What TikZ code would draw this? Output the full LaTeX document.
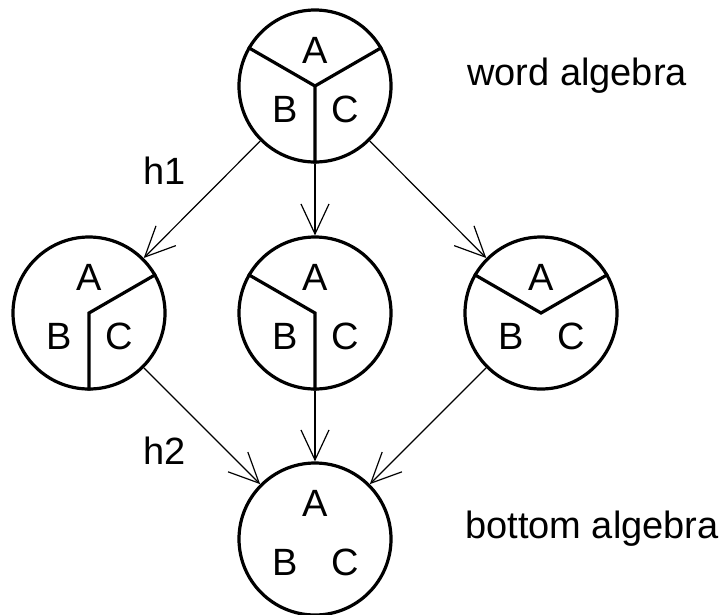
\documentclass[tikz,border=0pt]{standalone}
\usepackage{fontspec}
\setmainfont{Liberation Sans}
\usetikzlibrary{arrows.meta}

\tikzset{
  alg/.style={circle, draw, line width=3.2pt, minimum size=152pt, inner sep=0pt},
  lbl/.style={font=\fontsize{38}{38}\selectfont, anchor=base, inner sep=0pt},
  side/.style={font=\fontsize{38}{38}\selectfont, anchor=base west, inner sep=0pt},
  divider/.style={line width=3.2pt},
  arr/.style={line width=1.2pt, -{Straight Barb[length=30pt,width=28pt]}}
}

\begin{document}
\begin{tikzpicture}[x=1pt, y=-1pt]
\useasboundingbox (0,0) rectangle (723,614);

% the five algebras
\node[alg] (t) at (315,86) {};
\node[alg] (l) at (89,313) {};
\node[alg] (m) at (315,313) {};
\node[alg] (r) at (541,313) {};
\node[alg] (b) at (315,539) {};

% partitions of the carriers
\draw[divider] (t.150) -- (t.center) -- (t.30) (t.center) -- (t.-90);
\draw[divider] (l.30) -- (l.center) -- (l.-90);
\draw[divider] (m.150) -- (m.center) -- (m.-90);
\draw[divider] (r.150) -- (r.center) -- (r.30);

% sort labels inside every circle
\node[lbl] (tA) at ([yshift=23pt]t.center) {A};
\node[lbl] (tB) at ([xshift=-30pt,yshift=-36pt]t.center) {B};
\node[lbl] (tC) at ([xshift=30pt,yshift=-36pt]t.center) {C};
\node[lbl] (lA) at ([yshift=23pt]l.center) {A};
\node[lbl] (lB) at ([xshift=-30pt,yshift=-36pt]l.center) {B};
\node[lbl] (lC) at ([xshift=30pt,yshift=-36pt]l.center) {C};
\node[lbl] (mA) at ([yshift=23pt]m.center) {A};
\node[lbl] (mB) at ([xshift=-30pt,yshift=-36pt]m.center) {B};
\node[lbl] (mC) at ([xshift=30pt,yshift=-36pt]m.center) {C};
\node[lbl] (rA) at ([yshift=23pt]r.center) {A};
\node[lbl] (rB) at ([xshift=-30pt,yshift=-36pt]r.center) {B};
\node[lbl] (rC) at ([xshift=30pt,yshift=-36pt]r.center) {C};
\node[lbl] (bA) at ([yshift=23pt]b.center) {A};
\node[lbl] (bB) at ([xshift=-30pt,yshift=-36pt]b.center) {B};
\node[lbl] (bC) at ([xshift=30pt,yshift=-36pt]b.center) {C};

% homomorphisms
\draw[arr] (t) -- (l);
\draw[arr] (t) -- (m);
\draw[arr] (t) -- (r);
\draw[arr] (l) -- (b);
\draw[arr] (m) -- (b);
\draw[arr] (r) -- (b);

% annotations
\node[side] (h1) at (143,184) {h1};
\node[side] (h2) at (143,464) {h2};
\node[side] (wa) at (467,85) {word algebra};
\node[side] (ba) at (465,538) {bottom algebra};
\end{tikzpicture}
\end{document}
